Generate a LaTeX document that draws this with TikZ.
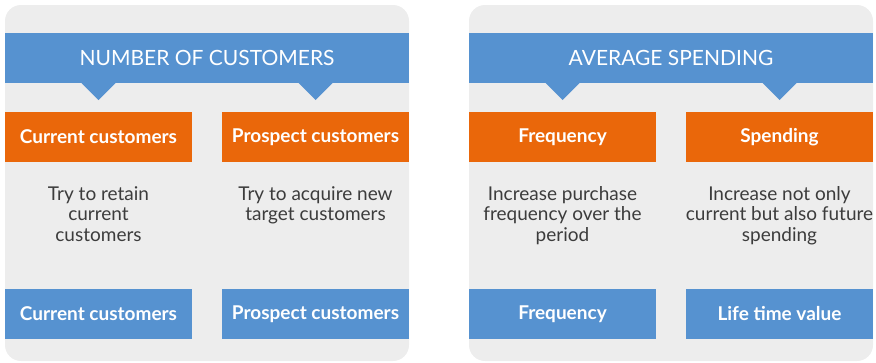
\documentclass[tikz,border=0pt]{standalone}
\usepackage{fontspec}
\setmainfont{Lato}
\usepackage{tikz}

\definecolor{panelGray}{HTML}{EDEDED}
\definecolor{headBlue}{HTML}{5692D0}
\definecolor{tabOrange}{HTML}{EA670A}
\definecolor{textGray}{HTML}{3C3C3C}

\begin{document}
\begin{tikzpicture}
[x=1pt,y=-1pt,
  panelDecorate/.style={fill=panelGray,rounded corners=16pt},%
  headDecorate/.style={fill=headBlue,text=white,minimum width=404pt,minimum height=50pt,inner sep=0pt,font=\fontsize{21}{23}\selectfont},%
  pointerDecorate/.style={fill=headBlue},%
  tabDecorate/.style={fill=tabOrange,text=white,minimum width=187pt,minimum height=50pt,inner sep=0pt,font=\fontsize{19}{21}\selectfont\bfseries},%
  footDecorate/.style={fill=headBlue,text=white,minimum width=187pt,minimum height=50pt,inner sep=0pt,font=\fontsize{19}{21}\selectfont\bfseries},%
  textDecorate/.style={anchor=north,align=center,inner sep=0pt,text=textGray,font=\fontsize{19}{20.5}\selectfont}]
\useasboundingbox (0,0) rectangle (876,362);
%% panels and headers
\foreach \pname/\x/\title in {num/5/NUMBER OF CUSTOMERS, avg/469/AVERAGE SPENDING}
{
  \path[panelDecorate] (\x,5) rectangle ++(404,356);
  \node (\pname head) at (\x+202,58) [headDecorate] {\title};
}
%% columns
\foreach \cname/\x/\tablabel/\desc/\footlabel in {%
  cur/98.5/Current customers/Try to retain\\current\\customers/Current customers,
  pro/315.5/Prospect customers/Try to acquire new\\target customers/Prospect customers,
  fre/562.5/Frequency/Increase purchase\\frequency over the\\period/Frequency,
  spe/779.5/Spending/Increase not only\\current but also future\\spending/Life time value}
{
  \path[pointerDecorate] (\x-17,83) -- (\x,100) -- (\x+17,83) -- cycle;
  \node (\cname tab) at (\x,137) [tabDecorate] {\tablabel};
  \node (\cname text) at (\x,186) [textDecorate] {\desc};
  \node (\cname foot) at (\x,314) [footDecorate] {\footlabel};
}
\end{tikzpicture}
\end{document}
